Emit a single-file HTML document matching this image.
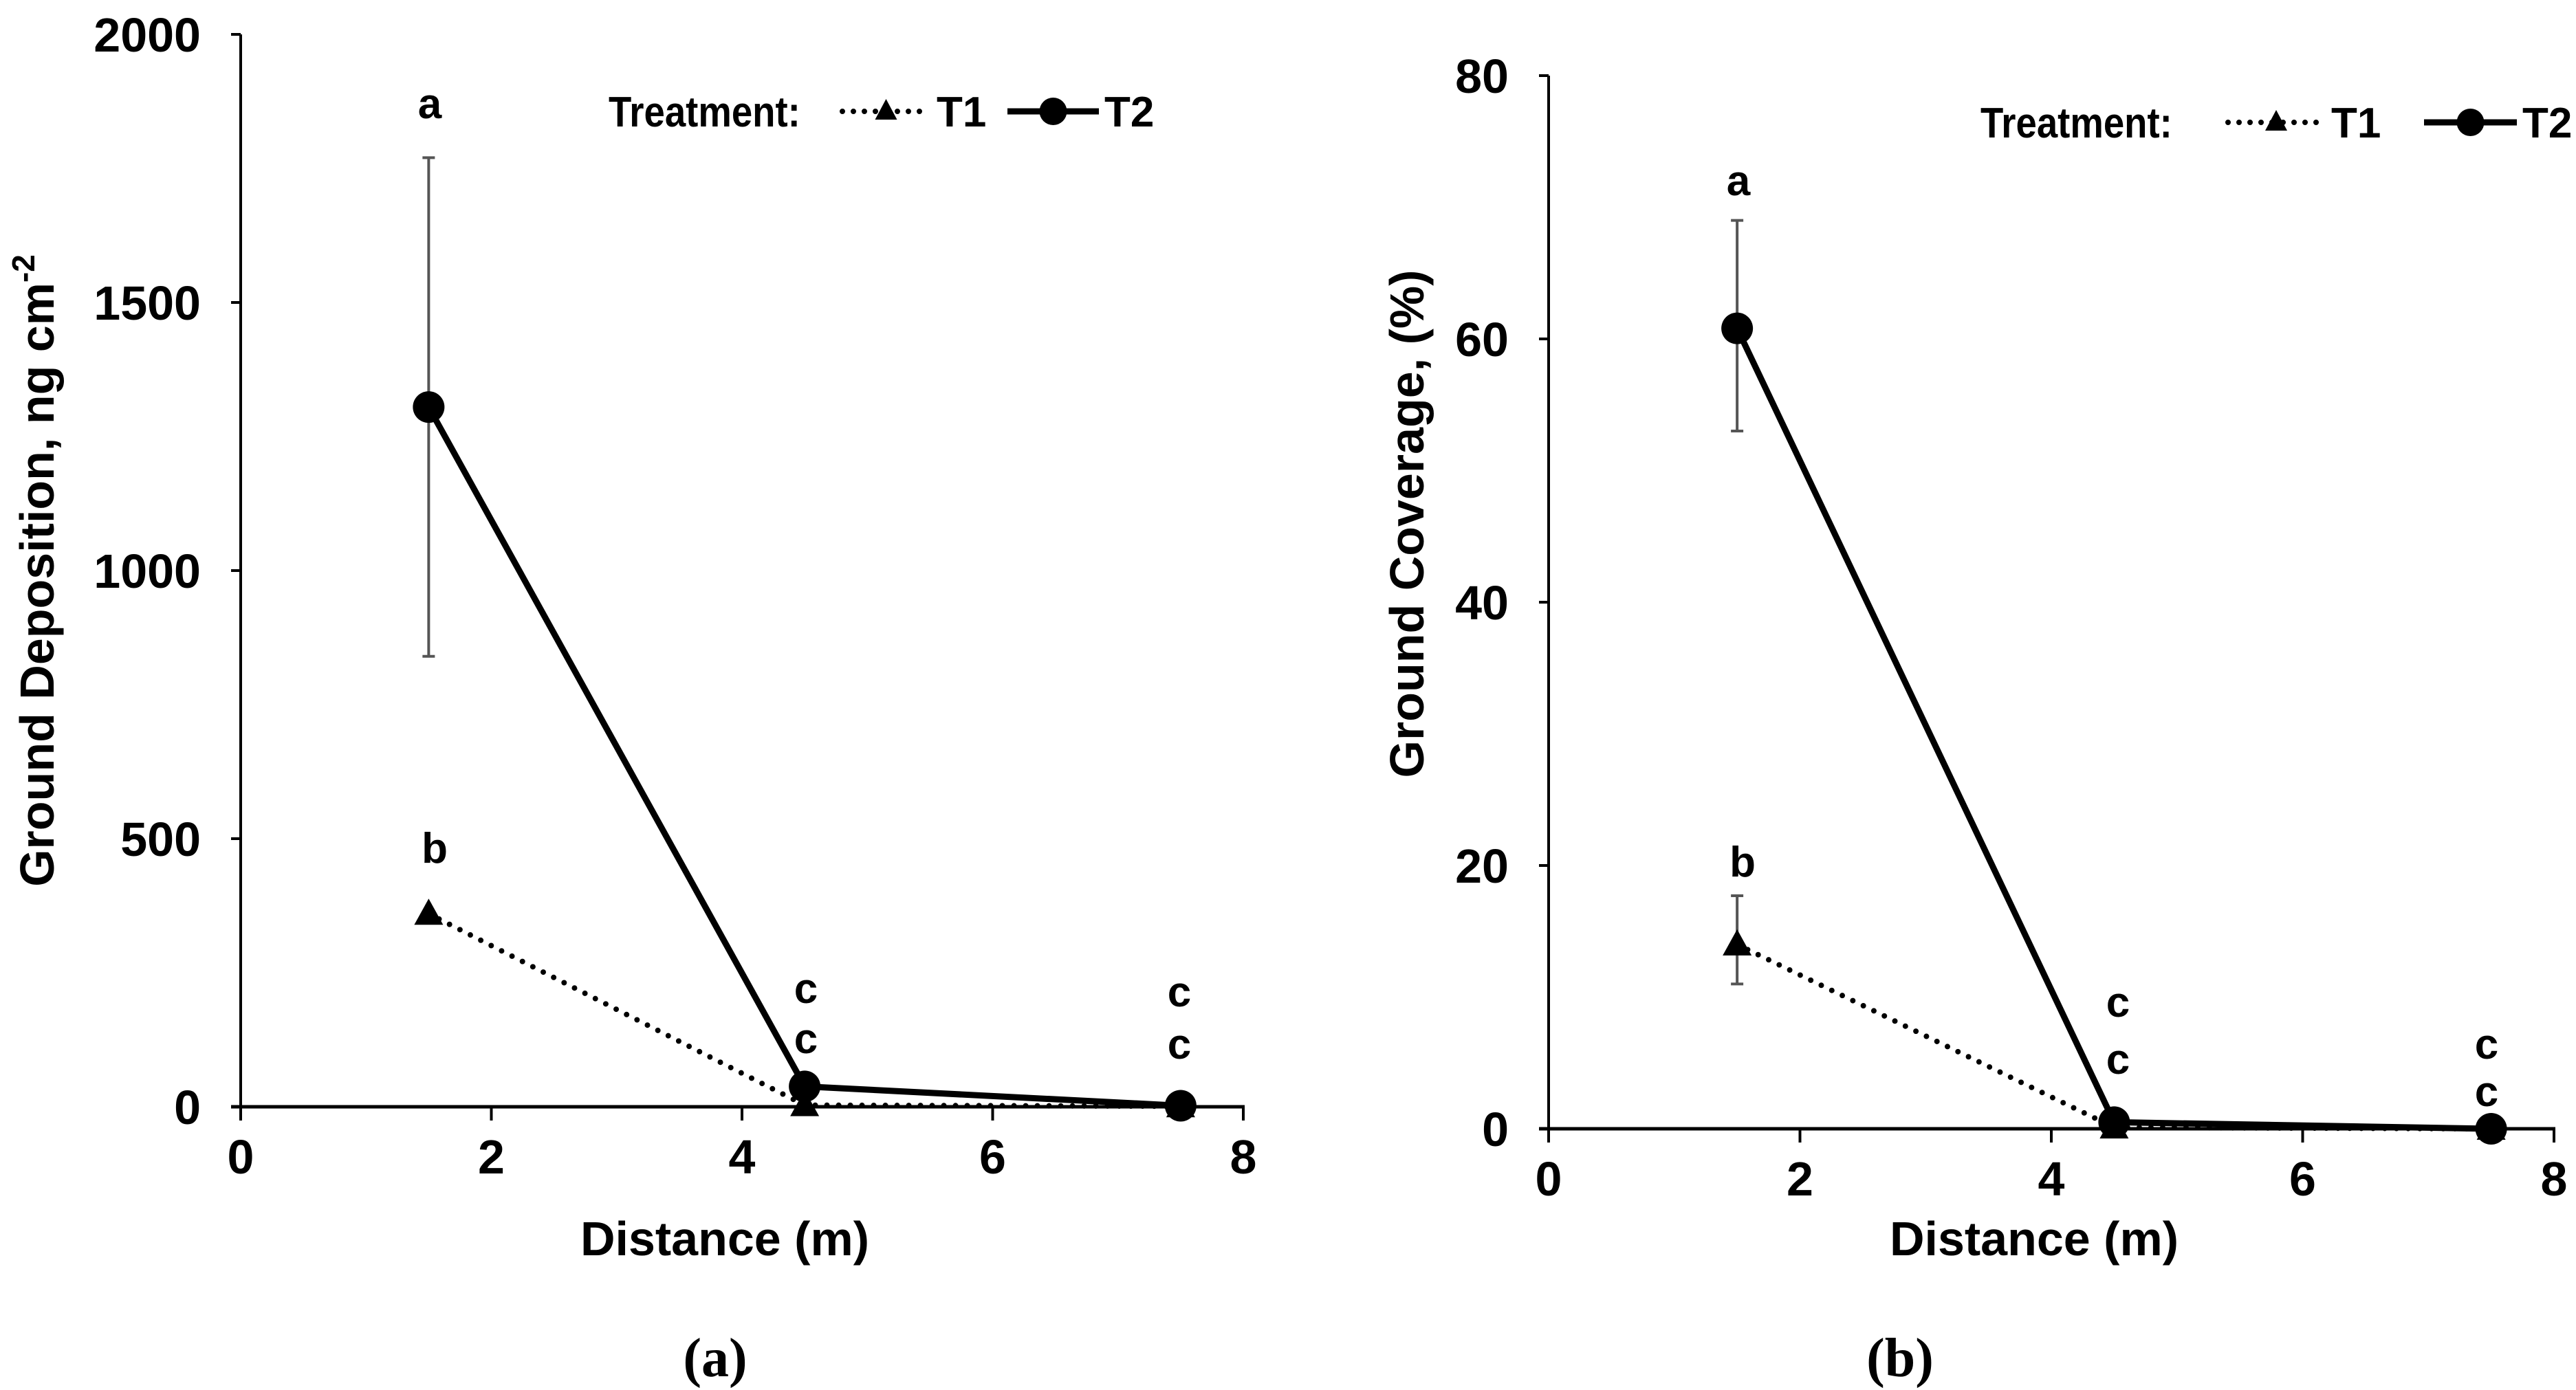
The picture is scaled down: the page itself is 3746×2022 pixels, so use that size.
<!DOCTYPE html>
<html><head><meta charset="utf-8"><style>
html,body{margin:0;padding:0;background:#fff;}
svg{display:block;font-family:"Liberation Sans",Arial,sans-serif;font-weight:bold;}
</style></head><body>
<svg id="fig" width="3746" height="2022" viewBox="0 0 3746 2022" xmlns="http://www.w3.org/2000/svg"></svg>
<script>
const distances = [1.5, 4.5, 7.5];
const xTicks = [0, 2, 4, 6, 8];
// Panel (a)
const aT1 = [360, 3, 1];
const aT2 = [1305, 38, 2];
const aT2ErrLow = [840, null, null];
const aT2ErrHigh = [1770, null, null];
const aT1ErrLow = [null, null, null];
const aT1ErrHigh = [null, null, null];
const aYTicks = [0, 500, 1000, 1500, 2000];
const aLettersT2 = ['a', 'c', 'c'];
const aLettersT1 = ['b', 'c', 'c'];
// Panel (b)
const bT1 = [14, 0.1, 0];
const bT2 = [60.8, 0.5, 0];
const bT2ErrLow = [53, null, null];
const bT2ErrHigh = [69, null, null];
const bT1ErrLow = [11, null, null];
const bT1ErrHigh = [17.7, null, null];
const bYTicks = [0, 20, 40, 60, 80];
const bLettersT2 = ['a', 'c', 'c'];
const bLettersT1 = ['b', 'c', 'c'];

const NS = 'http://www.w3.org/2000/svg';
const svg = document.getElementById('fig');
function mk(tag, attrs, parent, text) {
  const e = document.createElementNS(NS, tag);
  for (const k in attrs) e.setAttribute(k, attrs[k]);
  if (text !== undefined) e.textContent = text;
  (parent || svg).appendChild(e);
  return e;
}

function panel(cfg) {
  const g = mk('g', {});
  
  
  const sx = v => cfg.x0 + (v - 0) / 8 * (cfg.x1 - cfg.x0);
  const sy = v => cfg.y0 - v / cfg.ymax * (cfg.y0 - cfg.y1);
  const ya = mk('line', {x1: cfg.x0, y1: cfg.y1, x2: cfg.x0, y2: cfg.y0, stroke: '#000', 'stroke-width': 4}, g);
  
  
  const xa = mk('line', {x1: cfg.x0 - 14, y1: cfg.y0, x2: cfg.x1 + 2, y2: cfg.y0, stroke: '#000', 'stroke-width': 5}, g);
  
  
  cfg.yTicks.forEach(t => {
    const y = sy(t);
    const tk = mk('line', {x1: cfg.x0 - 14, y1: y, x2: cfg.x0, y2: y, stroke: '#000', 'stroke-width': 4}, g);
    
    
    const tl = mk('text', {x: cfg.x0 - 58, y: y + 25, 'text-anchor': 'end', 'font-size': 70}, g, String(t));
    
    
  });
  xTicks.forEach(t => {
    const x = sx(t);
    const tk = mk('line', {x1: x, y1: cfg.y0, x2: x, y2: cfg.y0 + 20, stroke: '#000', 'stroke-width': 4}, g);
    
    
    const tl = mk('text', {x: x, y: cfg.y0 + 97, 'text-anchor': 'middle', 'font-size': 70}, g, String(t));
    
    
  });
  const xt = mk('text', {x: (cfg.x0 + cfg.x1) / 2 - 25, y: 1826, 'text-anchor': 'middle', 'font-size': 70}, g, 'Distance (m)');
  
  
  const yt = mk('text', {x: 0, y: 0, 'text-anchor': 'middle', 'font-size': 70, transform: `translate(${cfg.ytx},${cfg.yty}) rotate(-90)`}, g);
  
  
  yt.appendChild(document.createTextNode(cfg.ytitle));
  if (cfg.ysup) {
    mk('tspan', {dy: -28, 'font-size': 46}, yt, cfg.ysup);
  }
  function err(lo, hi, name) {
    distances.forEach((d, i) => {
      if (lo[i] == null) return;
      const x = sx(d), a = sy(lo[i]), b = sy(hi[i]);
      const eg = mk('g', {stroke: '#555', 'stroke-width': 4}, g);
      
      
      mk('line', {x1: x, y1: a, x2: x, y2: b}, eg);
      mk('line', {x1: x - 9, y1: a, x2: x + 9, y2: a}, eg);
      mk('line', {x1: x - 9, y1: b, x2: x + 9, y2: b}, eg);
    });
  }
  err(cfg.t2lo, cfg.t2hi, 't2-error-bar');
  err(cfg.t1lo, cfg.t1hi, 't1-error-bar');
  const p1 = distances.map((d, i) => sx(d) + ',' + sy(cfg.t1[i])).join(' ');
  const l1 = mk('polyline', {points: p1, fill: 'none', stroke: '#000', 'stroke-width': 8, 'stroke-dasharray': '0 17', 'stroke-linecap': 'round'}, g);
  
  
  distances.forEach((d, i) => {
    const x = sx(d), y = sy(cfg.t1[i]);
    const tr = mk('polygon', {points: `${x},${y - 22} ${x - 21},${y + 16} ${x + 21},${y + 16}`, fill: '#000'}, g);
    
    
  });
  const p2 = distances.map((d, i) => sx(d) + ',' + sy(cfg.t2[i])).join(' ');
  const l2 = mk('polyline', {points: p2, fill: 'none', stroke: '#000', 'stroke-width': 9}, g);
  
  
  distances.forEach((d, i) => {
    const c = mk('circle', {cx: sx(d), cy: sy(cfg.t2[i]), r: 23, fill: '#000'}, g);
    
    
  });
  cfg.letters.forEach(L => {
    const t = mk('text', {x: L[0], y: L[1] + 22, 'text-anchor': 'middle', 'font-size': 62}, g, L[2]);
    
    
  });
  const lg = mk('g', {}, g);
  
  
  const L = cfg.leg;
  mk('text', {x: L.tx, y: L.y + 22, 'font-size': 62, transform: `translate(${L.tx},0) scale(0.88,1) translate(${-L.tx},0)`}, lg, 'Treatment:');
  mk('line', {x1: L.t1a, y1: L.y, x2: L.t1b, y2: L.y, stroke: '#000', 'stroke-width': 8, 'stroke-dasharray': '0 16', 'stroke-linecap': 'round'}, lg);
  const m = (L.t1a + L.t1b) / 2;
  mk('polygon', {points: `${m},${L.y - 18} ${m - 16},${L.y + 12} ${m + 16},${L.y + 12}`, fill: '#000'}, lg);
  mk('text', {x: L.t1b + 10, y: L.y + 22, 'font-size': 62}, lg, 'T1');
  mk('line', {x1: L.t2a, y1: L.y, x2: L.t2b, y2: L.y, stroke: '#000', 'stroke-width': 9}, lg);
  mk('circle', {cx: (L.t2a + L.t2b) / 2, cy: L.y, r: 20, fill: '#000'}, lg);
  mk('text', {x: L.t2b + 8, y: L.y + 22, 'font-size': 62}, lg, 'T2');
  const cap = mk('text', {x: cfg.capx, y: 2002, 'text-anchor': 'middle', 'font-size': 80, 'font-family': '"Liberation Serif",serif'}, g, cfg.cap);
  
  
}

panel({name: 'panel-a', x0: 350, x1: 1808, y0: 1610, y1: 50, ymax: 2000, yTicks: aYTicks,
  t1: aT1, t2: aT2, t2lo: aT2ErrLow, t2hi: aT2ErrHigh, t1lo: aT1ErrLow, t1hi: aT1ErrHigh,
  ytitle: 'Ground Deposition, ng cm', ysup: '-2', ytx: 78, yty: 830,
  letters: [[625, 150, aLettersT2[0]], [632, 1233, aLettersT1[0]], [1172, 1437, aLettersT2[1]], [1172, 1510, aLettersT1[1]], [1715, 1442, aLettersT2[2]], [1715, 1518, aLettersT1[2]]],
  leg: {tx: 885, y: 162, t1a: 1225, t1b: 1352, t2a: 1465, t2b: 1598},
  cap: '(a)', capx: 1040});
panel({name: 'panel-b', x0: 2252, x1: 3714, y0: 1642, y1: 110, ymax: 80, yTicks: bYTicks,
  t1: bT1, t2: bT2, t2lo: bT2ErrLow, t2hi: bT2ErrHigh, t1lo: bT1ErrLow, t1hi: bT1ErrHigh,
  ytitle: 'Ground Coverage, (%)', ysup: '', ytx: 2070, yty: 762,
  letters: [[2528, 262, bLettersT2[0]], [2534, 1253, bLettersT1[0]], [3080, 1457, bLettersT2[1]], [3080, 1540, bLettersT1[1]], [3616, 1518, bLettersT2[2]], [3616, 1587, bLettersT1[2]]],
  leg: {tx: 2880, y: 178, t1a: 3240, t1b: 3380, t2a: 3525, t2b: 3660},
  cap: '(b)', capx: 2763});
</script>
</body></html>
